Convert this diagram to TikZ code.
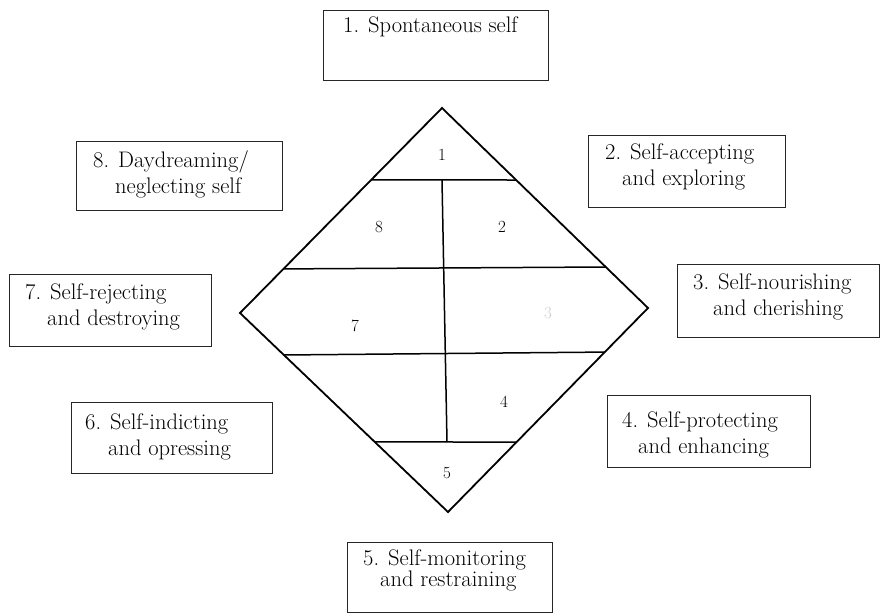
\documentclass[tikz,border=0pt]{standalone}
\usetikzlibrary{calc}
\begin{document}
\begin{tikzpicture}[x=1pt,y=-1pt,
  box/.style={draw=black!85, line width=1.4pt, inner sep=0pt, anchor=north west},
  lbl/.style={inner sep=0pt, anchor=west, align=left, font=\fontsize{22.5}{26}\selectfont},
  num/.style={inner sep=0pt, font=\fontsize{17}{20}\selectfont},
  dline/.style={line width=1.8pt, line join=miter},
  iline/.style={line width=1.5pt}]
\useasboundingbox (0,0) rectangle (880,613);
% boxes
\node[box, minimum width=225pt, minimum height=70pt] (b1) at (323,10) {};
\node[box, minimum width=197pt, minimum height=72pt] (b2) at (588,135) {};
\node[box, minimum width=202pt, minimum height=73pt] (b3) at (677,264) {};
\node[box, minimum width=203pt, minimum height=72pt] (b4) at (607,395) {};
\node[box, minimum width=205pt, minimum height=70pt] (b5) at (347,542) {};
\node[box, minimum width=201pt, minimum height=71pt] (b6) at (71,402) {};
\node[box, minimum width=202pt, minimum height=72pt] (b7) at (9,274) {};
\node[box, minimum width=206pt, minimum height=69pt] (b8) at (76,141) {};
% texts
\node[lbl] (t1) at (343,27) {1. Spontaneous self};
\node[lbl] (t2) at (605,166.5) {2. Self-accepting\\\hspace*{17pt}and exploring};
\node[lbl] (t3) at (693,296.5) {3. Self-nourishing\\\hspace*{20pt}and cherishing};
\node[lbl] (t4) at (622,435) {4. Self-protecting\\\hspace*{16pt}and enhancing};
\node[lbl, font=\fontsize{22.5}{20}\selectfont] (t5) at (363,570) {5. Self-monitoring\\\hspace*{17pt}and restraining};
\node[lbl] (t6) at (85,436.5) {6. Self-indicting\\\hspace*{23pt}and opressing};
\node[lbl] (t7) at (25,306.5) {7. Self-rejecting\\\hspace*{22pt}and destroying};
\node[lbl] (t8) at (93,174.5) {8. Daydreaming/\\\hspace*{22pt}neglecting self};
% diamond
\coordinate (T) at (442,108);
\coordinate (R) at (648,308);
\coordinate (B) at (448,512);
\coordinate (L) at (240,313);
\draw[dline] (T) -- (R) -- (B) -- (L) -- cycle;
\coordinate (h1l) at ($(T)!0.351!(L)$);
\coordinate (h1r) at ($(T)!0.36!(R)$);
\coordinate (h2l) at ($(T)!0.785!(L)$);
\coordinate (h2r) at ($(T)!0.795!(R)$);
\coordinate (h3l) at ($(L)!0.211!(B)$);
\coordinate (h3r) at ($(R)!0.216!(B)$);
\coordinate (h4l) at ($(L)!0.648!(B)$);
\coordinate (h4r) at ($(R)!0.657!(B)$);
\coordinate (vt) at (442,180);
\coordinate (vb) at (447,442);
\draw[iline] (h1l) -- (h1r);
\draw[iline] (h2l) -- (h2r);
\draw[iline] (h3l) -- (h3r);
\draw[iline] (h4l) -- (h4r);
\draw[iline] (vt) -- (vb);
% numbers
\node[num] (n1) at (442,155) {1};
\node[num] (n2) at (502,227) {2};
\node[num, text=black!20] (n3) at (548,313) {3};
\node[num] (n4) at (504,402) {4};
\node[num] (n5) at (447,473) {5};
\node[num] (n7) at (355,326) {7};
\node[num] (n8) at (379,227) {8};
\end{tikzpicture}
\end{document}
